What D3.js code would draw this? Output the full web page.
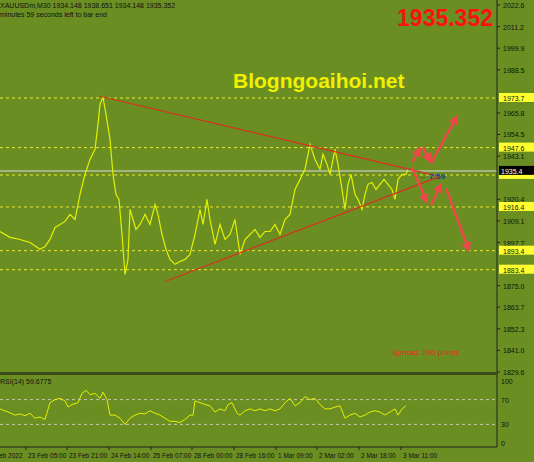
<!DOCTYPE html>
<html><head><meta charset="utf-8">
<script src="https://cdn.jsdelivr.net/npm/d3@7"></script>
<style>body{margin:0;background:#6b8e23}svg{display:block;font-family:"Liberation Sans",sans-serif}</style>
</head><body><div id="chart"></div>
<script>
// price closes (bar index, price)
var bars = [0,10,20,30,40,45,50,55,60,65,70,75,80,85,90,95,98,100,103,106,110,113,116,119,122,125,128,130,133,136,140,145,150,155,158,162,166,170,175,180,185,190,195,200,203,207,210,215,220,225,230,235,240,245,250,255,260,265,270,275,280,285,290,295,300,305,310,315,320,323,327,330,335,338,342,345,348,351,355,358,362,365,368,372,376,380,384,388,392,395,398,402,406,408];
var closes = [1903.5,1900.4,1899.3,1897.7,1894.1,1895.6,1899.3,1905.6,1907.2,1908.8,1912.5,1909.8,1923.0,1933.5,1941.4,1946.7,1959.8,1970.4,1974.1,1965.1,1952.0,1933.5,1923.0,1920.4,1901.9,1880.9,1888.8,1915.1,1909.8,1904.6,1907.2,1912.5,1907.2,1917.7,1912.5,1901.9,1894.1,1888.8,1886.2,1887.7,1888.8,1891.4,1901.9,1915.1,1907.2,1920.4,1909.8,1896.7,1907.2,1899.3,1901.9,1909.8,1891.4,1899.3,1901.9,1904.6,1900.4,1903.5,1903.5,1907.2,1901.9,1909.8,1912.5,1925.6,1930.9,1936.2,1949.3,1941.4,1936.2,1944.1,1938.8,1933.5,1946.7,1938.8,1925.6,1915.1,1928.3,1933.5,1923.0,1920.4,1915.1,1923.0,1928.3,1929.3,1925.6,1928.3,1930.9,1928.3,1925.6,1920.4,1930.9,1933.5,1933.5,1936.2];

var rsiBars = [0,8,15,20,25,30,35,40,45,50,55,60,65,68,72,78,82,86,90,95,100,103,107,110,115,120,125,130,135,140,145,150,155,160,165,170,175,180,185,190,193,195,200,205,210,215,220,225,228,232,237,240,245,250,255,260,265,270,275,280,285,290,295,300,305,310,315,320,325,330,335,340,345,350,355,360,365,370,375,380,385,390,395,398,402,406];
var rsiValues = [55,50,45,47,44,48,40,42,38,65,70,72,68,58,62,65,80,85,78,80,72,82,70,45,45,40,30,40,45,48,47,52,48,45,40,35,35,33,38,45,45,68,65,62,60,50,55,52,62,65,48,45,52,55,52,55,52,55,52,55,65,72,60,65,75,70,72,62,55,55,58,60,40,45,48,42,45,50,52,50,45,50,55,45,55,60];

var priceTicks = [2022.6,2011.2,1999.9,1988.5,1977.2,1965.8,1954.5,1943.1,1931.8,1920.4,1909.1,1897.7,1886.4,1875.0,1863.7,1852.3,1841.0,1829.6];
var levels = [1973.7,1947.6,1933.2,1916.4,1893.4,1883.4];
var rsiTicks = [100,70,30,0];
var timeLabels = ["22 Feb 2022","23 Feb 05:00","23 Feb 21:00","24 Feb 14:00","25 Feb 07:00","28 Feb 00:00","28 Feb 16:00","1 Mar 09:00","2 Mar 02:00","2 Mar 18:00","3 Mar 11:00"];
var timeBars = [-16,26,67,109,151,192,234,276,317,359,401];
var trendLines = [[[100,1974.6],[435,1933.0]],[[165,1877.2],[440,1932.5]]];
var arrows = [[[412,1939.8],[420,1947.2]],[[423,1947.7],[430,1940.4]],[[431,1939.3],[457,1964.1]],
              [[412,1937.2],[427,1918.8]],[[431,1917.2],[441,1928.3]],[[446,1926.2],[469,1893.5]]];
var lastPrice = 1935.352;

var W = 534, H = 462, axisX = 497;
var svg = d3.select("#chart").append("svg").attr("width", W).attr("height", H);
svg.append("rect").attr("width", W).attr("height", H).attr("fill", "#6b8e23");

var x = d3.scaleLinear().domain([0, 497]).range([0, 497]);
var y = d3.scaleLinear().domain([1829.6, 2022.6]).range([372, 5]);
var yr = d3.scaleLinear().domain([0, 100]).range([443, 381]);

var defs = svg.append("defs");
defs.append("marker").attr("id", "ah").attr("viewBox", "0 0 10 10").attr("refX", 8).attr("refY", 5)
  .attr("markerWidth", 4).attr("markerHeight", 4).attr("orient", "auto")
  .append("path").attr("d", "M0,0L10,5L0,10z").attr("fill", "#f04848");
defs.append("clipPath").attr("id", "main").append("rect").attr("width", axisX).attr("height", 372);

var g = svg.append("g").attr("clip-path", "url(#main)");

// level lines
g.selectAll(".lvl").data(levels).enter().append("line")
  .attr("x1", 0).attr("x2", axisX).attr("y1", d => y(d)).attr("y2", d => y(d))
  .attr("stroke", "#e8e830").attr("stroke-dasharray", "3,3").attr("stroke-width", 1);
g.append("line").attr("x1", 0).attr("x2", axisX).attr("y1", y(lastPrice)).attr("y2", y(lastPrice))
  .attr("stroke", "#b8c0a8").attr("stroke-width", 1.5);

// price line
var line = d3.line().x((d, i) => x(bars[i])).y(d => y(d));
g.append("path").datum(closes).attr("d", line).attr("fill", "none").attr("stroke", "#e4f000").attr("stroke-width", 1.2);

// trend lines
g.selectAll(".tl").data(trendLines).enter().append("line")
  .attr("x1", d => x(d[0][0])).attr("y1", d => y(d[0][1]))
  .attr("x2", d => x(d[1][0])).attr("y2", d => y(d[1][1]))
  .attr("stroke", "#d83020").attr("stroke-width", 1.2);
g.selectAll(".ar").data(arrows).enter().append("line")
  .attr("x1", d => x(d[0][0])).attr("y1", d => y(d[0][1]))
  .attr("x2", d => x(d[1][0])).attr("y2", d => y(d[1][1]))
  .attr("stroke", "#f04848").attr("stroke-width", 2.5).attr("marker-end", "url(#ah)");

g.append("text").attr("x", 419).attr("y", y(lastPrice) + 8).attr("font-size", 8).attr("font-weight", "bold")
  .attr("fill", "#1a3c9a").text("\u2190 7:59");

// texts
svg.append("text").attr("x", 0).attr("y", 8).attr("font-size", 7).attr("fill", "#111")
  .text("XAUUSDm,M30  1934.148 1938.651 1934.148 1935.352");
svg.append("text").attr("x", 0).attr("y", 17).attr("font-size", 7).attr("fill", "#111")
  .text("minutes 59 seconds left to bar end");
svg.append("text").attr("x", 493).attr("y", 26).attr("text-anchor", "end").attr("font-size", 23)
  .attr("font-weight", "bold").attr("fill", "#ff1010").text("1935.352");
svg.append("text").attr("x", 233).attr("y", 88).attr("font-size", 21).attr("font-weight", "bold")
  .attr("fill", "#f0f000").text("Blogngoaihoi.net");
svg.append("text").attr("x", 392).attr("y", 355).attr("font-size", 8).attr("fill", "#e03020").text("Spread: 200 points");

// price axis
var labelled = levels.concat([lastPrice]);
var shownTicks = priceTicks.filter(t => labelled.every(l => Math.abs(y(t) - y(l)) > 7));
svg.append("line").attr("x1", axisX).attr("x2", axisX).attr("y1", 0).attr("y2", 447).attr("stroke", "#222");
var pa = svg.selectAll(".pt").data(shownTicks).enter().append("g").attr("transform", d => "translate(" + axisX + "," + y(d) + ")");
pa.append("line").attr("x2", 3).attr("stroke", "#222");
pa.append("text").attr("x", 6).attr("y", 3).attr("font-size", 7).attr("fill", "#111").text(d => d.toFixed(1));
var la = svg.selectAll(".lt").data(levels.filter(d => Math.abs(y(d) - y(lastPrice)) > 9)).enter().append("g").attr("transform", d => "translate(" + (axisX + 2) + "," + y(d) + ")");
la.append("rect").attr("y", -5).attr("width", 35).attr("height", 9).attr("fill", "#ffff30");
la.append("text").attr("x", 4).attr("y", 3).attr("font-size", 7).attr("fill", "#111").text(d => d.toFixed(1));
svg.append("rect").attr("x", axisX + 2).attr("y", y(lastPrice) - 5).attr("width", 35).attr("height", 9).attr("fill", "#000");
svg.append("rect").attr("x", axisX + 2).attr("y", y(lastPrice) + 4).attr("width", 35).attr("height", 4).attr("fill", "#ffff30");
svg.append("text").attr("x", axisX + 4).attr("y", y(lastPrice) + 3).attr("font-size", 7).attr("fill", "#fff").text(lastPrice.toFixed(1));

// panel divider
svg.append("rect").attr("x", 0).attr("y", 372).attr("width", axisX).attr("height", 3).attr("fill", "#3a4a18");

// RSI panel
svg.append("text").attr("x", 0).attr("y", 384).attr("font-size", 7).attr("fill", "#111").text("RSI(14) 59.6775");
svg.selectAll(".rl").data([70, 30]).enter().append("line")
  .attr("x1", 0).attr("x2", axisX).attr("y1", d => yr(d)).attr("y2", d => yr(d))
  .attr("stroke", "#c8c8b0").attr("stroke-dasharray", "3,3");
var rline = d3.line().x((d, i) => x(rsiBars[i])).y(d => yr(d));
svg.append("path").datum(rsiValues).attr("d", rline).attr("fill", "none").attr("stroke", "#e4f000").attr("stroke-width", 1);
svg.selectAll(".rt").data(rsiTicks).enter().append("text")
  .attr("x", axisX + 4).attr("y", d => yr(d) + 3).attr("font-size", 7).attr("fill", "#111").text(d => d);

// time axis
svg.append("line").attr("x1", 0).attr("x2", axisX).attr("y1", 447).attr("y2", 447).attr("stroke", "#222");
var ta = svg.selectAll(".tt").data(timeLabels).enter().append("g").attr("transform", (d, i) => "translate(" + x(timeBars[i]) + ",447)");
ta.append("line").attr("y2", 3).attr("stroke", "#222");
ta.append("text").attr("x", 2).attr("y", 11).attr("font-size", 6.5).attr("fill", "#111").text(d => d);
</script></body></html>
